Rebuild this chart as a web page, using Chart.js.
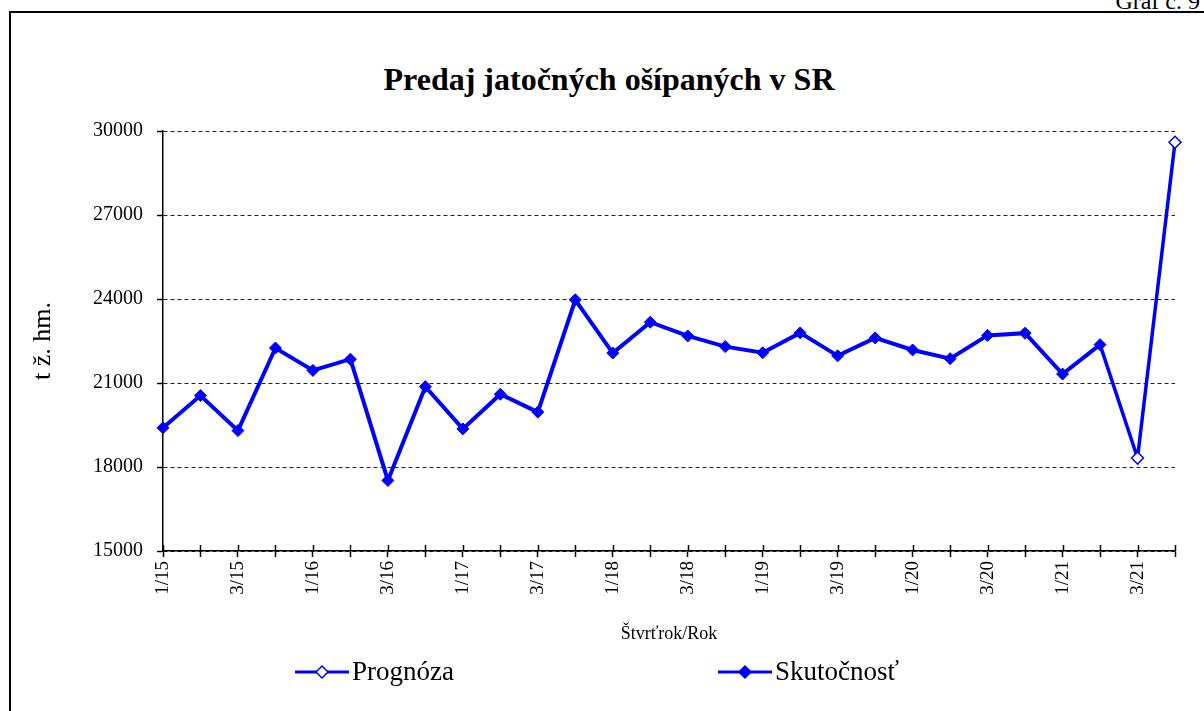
<!DOCTYPE html>
<html>
<head>
<meta charset="utf-8">
<script src="https://cdn.jsdelivr.net/npm/chart.js@4.4.0/dist/chart.umd.min.js"></script>
<style>
  html, body { margin: 0; padding: 0; background: #fff; overflow: hidden; }
  #wrap { position: relative; width: 1204px; height: 711px; }
  #frame { position: absolute; left: 9px; top: 11px; width: 1300px; height: 800px; border-top: 2px solid #000; border-left: 2px solid #000; }
  #graf { position: absolute; right: 4px; top: -12px; line-height: 24px; font: 24px 'Liberation Serif', serif; }
  #title { position: absolute; left: 0; width: 1218px; top: 61px; text-align: center; font: bold 32px 'Liberation Serif', serif; }
  canvas { position: absolute; left: 0; top: 0; }
</style>
</head>
<body>
<div id="wrap">
  <div id="frame"></div>
  <div id="graf">Graf č. 9</div>
  <div id="title">Predaj jatočných ošípaných v SR</div>
  <canvas id="chart" width="1204" height="711"></canvas>
</div>
<script>
const FONT = "'Liberation Serif', 'Times New Roman', serif";

// quarters 1/15 .. 4/21
const categories = [
  "1/15", "2/15", "3/15", "4/15",
  "1/16", "2/16", "3/16", "4/16",
  "1/17", "2/17", "3/17", "4/17",
  "1/18", "2/18", "3/18", "4/18",
  "1/19", "2/19", "3/19", "4/19",
  "1/20", "2/20", "3/20", "4/20",
  "1/21", "2/21", "3/21", "4/21"
];

// actual sales (1/15 .. 2/21)
const skutocnost = [
  19400, 20550, 19300, 22250,
  21450, 21850, 17520, 20870,
  19360, 20600, 19960, 23970,
  22070, 23170, 22680, 22300,
  22080, 22790, 21970, 22610,
  22180, 21870, 22700, 22780,
  21320, 22370
];

// forecast (3/21, 4/21)
const prognoza = [18320, 29600];

const yMin = 15000, yMax = 30000, yStep = 3000;

// forecast line starts from the last actual value
const lastIdx = skutocnost.length - 1;
const prognozaData = categories.map((c, i) => {
  if (i < lastIdx) return null;
  if (i === lastIdx) return skutocnost[lastIdx];
  return prognoza[i - lastIdx - 1];
});

function diamond(ctx, x, y, r, fill, stroke, lw) {
  ctx.beginPath();
  ctx.moveTo(x - r, y);
  ctx.lineTo(x, y - r);
  ctx.lineTo(x + r, y);
  ctx.lineTo(x, y + r);
  ctx.closePath();
  ctx.fillStyle = fill;
  ctx.fill();
  ctx.lineWidth = lw;
  ctx.strokeStyle = stroke;
  ctx.stroke();
}

// inner half of the x tick marks + the bottom legend
const extras = {
  id: "extras",
  beforeDatasetsDraw(chart) {
    const ctx = chart.ctx;
    const xs = chart.scales.x;
    ctx.save();
    ctx.strokeStyle = "#000";
    ctx.lineWidth = 1.5;
    xs.ticks.forEach((t, i) => {
      const px = Math.round(xs.getPixelForTick(i)) + 0.5;
      ctx.beginPath();
      ctx.moveTo(px, xs.top);
      ctx.lineTo(px, xs.top - 6);
      ctx.stroke();
    });
    ctx.restore();
  },
  afterDraw(chart) {
    const ctx = chart.ctx;
    const items = [
      { label: "Prognóza", x: 295, fill: "#fff" },
      { label: "Skutočnosť", x: 718, fill: "#0000ff" }
    ];
    const cy = 672;
    ctx.save();
    items.forEach(it => {
      ctx.strokeStyle = "#0000ff";
      ctx.lineWidth = 3;
      ctx.beginPath();
      ctx.moveTo(it.x, cy);
      ctx.lineTo(it.x + 54, cy);
      ctx.stroke();
      diamond(ctx, it.x + 27, cy, 6, it.fill, "#0000ff", 1.5);
      ctx.fillStyle = "#000";
      ctx.font = "27px " + FONT;
      ctx.textBaseline = "middle";
      ctx.fillText(it.label, it.x + 57, cy + 1);
    });
    ctx.restore();
  }
};

new Chart(document.getElementById("chart"), {
  type: "line",
  data: {
    labels: categories,
    datasets: [
      {
        label: "Skutočnosť",
        data: skutocnost,
        borderColor: "#0000ff",
        backgroundColor: "#0000ff",
        borderWidth: 4,
        pointStyle: "rectRot",
        pointRadius: 6,
        pointBackgroundColor: "#0000ff",
        pointBorderColor: "#0000ff",
        pointBorderWidth: 1,
        tension: 0
      },
      {
        label: "Prognóza",
        data: prognozaData,
        borderColor: "#0000ff",
        backgroundColor: "#fff",
        borderWidth: 3.5,
        pointStyle: "rectRot",
        pointRadius: ctx => (ctx.dataIndex === lastIdx ? 0 : 6),
        pointBackgroundColor: "#fff",
        pointBorderColor: "#0000ff",
        pointBorderWidth: 1.5,
        tension: 0,
        spanGaps: false
      }
    ]
  },
  options: {
    responsive: false,
    animation: false,
    layout: { padding: { top: 131, right: 29, left: 0, bottom: 0 } },
    plugins: {
      legend: { display: false },
      tooltip: { enabled: false }
    },
    scales: {
      x: {
        offset: false,
        afterFit(s) { s.height = 160; },
        grid: { drawOnChartArea: false, drawTicks: true, tickLength: 6, tickColor: "#000", tickWidth: 1.5 },
        border: { display: true, color: "#000", width: 1.5 },
        ticks: {
          autoSkip: false,
          minRotation: 90,
          maxRotation: 90,
          padding: 4,
          color: "#000",
          font: { family: FONT, size: 19 },
          callback: (v, i) => (i % 2 === 0 ? categories[i] : "")
        },
        title: {
          display: true,
          text: "Štvrťrok/Rok",
          color: "#000",
          font: { family: FONT, size: 18 },
          padding: { top: 0, bottom: 66 }
        }
      },
      y: {
        min: yMin,
        max: yMax,
        afterFit(s) { s.width = 163; },
        grid: { color: "#222", lineWidth: 1, tickLength: 6, tickColor: "#000", tickWidth: 1.5 },
        border: { display: true, color: "#000", width: 1.5, dash: [4, 3] },
        ticks: {
          stepSize: yStep,
          padding: 14,
          color: "#000",
          font: { family: FONT, size: 20 },
          callback: v => String(v)
        },
        title: {
          display: true,
          text: "t ž. hm.",
          color: "#000",
          font: { family: FONT, size: 26 },
          padding: { top: 28 }
        }
      }
    }
  },
  plugins: [extras]
});
</script>
</body>
</html>
